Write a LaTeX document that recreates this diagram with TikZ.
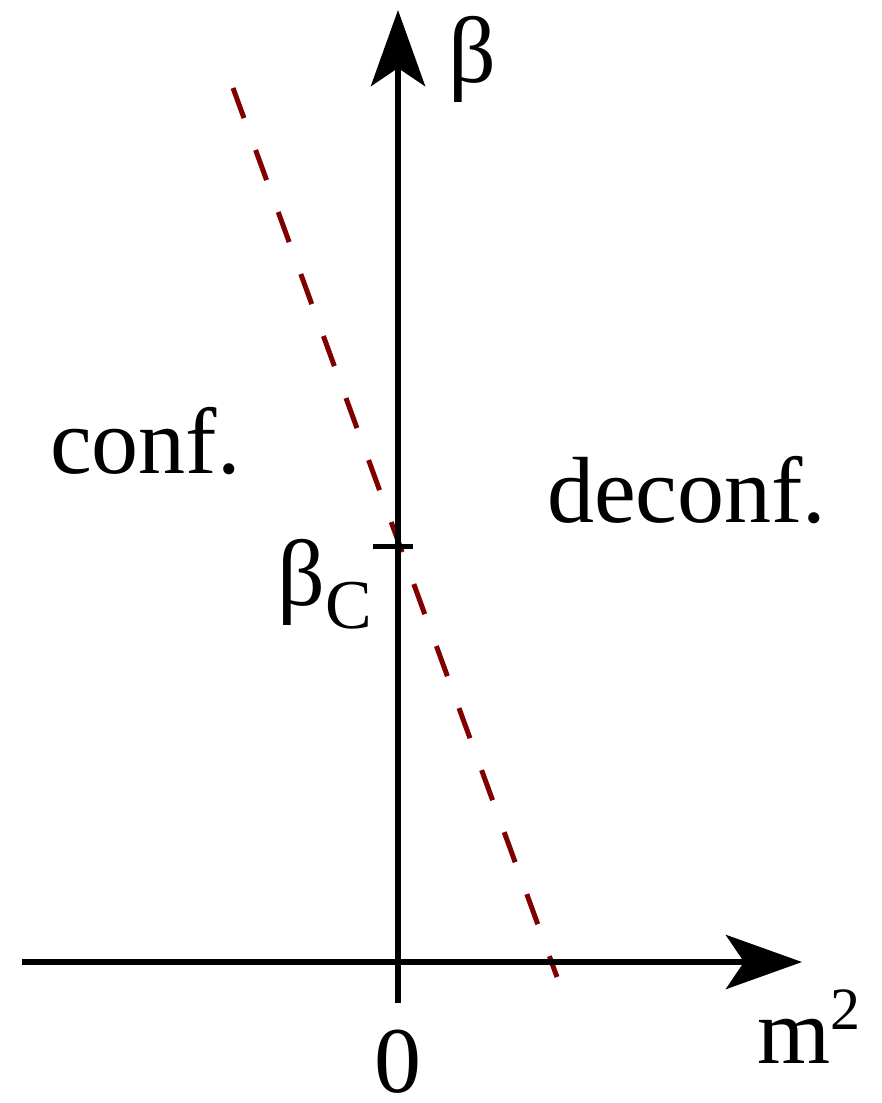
\documentclass[tikz,border=0pt]{standalone}
\usepackage{fontspec}
\setmainfont{Liberation Serif}
\usetikzlibrary{arrows.meta}
\definecolor{darkred}{RGB}{128,0,0}

\begin{document}
\begin{tikzpicture}[
        x=1pt, y=-1pt,
        every node/.style={inner sep=0pt, font=\fontsize{94pt}{100pt}\selectfont},
        axis/.style={
            line width=6.5pt,
            draw=black
        },
        arrow/.style={
            axis,
            -{Stealth[length=76pt,width=54pt,inset=18pt]}
        },
        boundary/.style={
            line width=5pt,
            draw=darkred,
            dash pattern=on 32pt off 34pt
        },
        tick/.style={
            line width=5pt,
            draw=black
        }
    ]

    \useasboundingbox (0,0) rectangle (882,1103);

    % axes
    \coordinate (xstart) at (22,962);
    \coordinate (xend) at (802,962);
    \coordinate (ystart) at (398,1003);
    \coordinate (yend) at (398,10);

    % critical line and tick
    \coordinate (linetop) at (233,88);
    \coordinate (linebot) at (557,977);
    \coordinate (tickleft) at (373,546);
    \coordinate (tickright) at (413,546);

    \draw[boundary] (linetop) -- (linebot);
    \draw[arrow] (xstart) -- (xend);
    \draw[arrow] (ystart) -- (yend);
    \draw[tick] (tickleft) -- (tickright);

    \node[anchor=base west] (betaaxis) at (448,82) {β};
    \node[anchor=base west] (betacrit) at (277,605)
        {β\raisebox{-23pt}{\fontsize{70pt}{76pt}\selectfont C}};
    \node[anchor=base west] (msquare) at (757,1063)
        {m\raisebox{34pt}{\fontsize{60pt}{64pt}\selectfont 2}};
    \node[anchor=base] (zero) at (398,1092) {0};

    \node[anchor=base west] (conf) at (50,473) {conf.};
    \node[anchor=base west] (deconf) at (547,522) {deconf.};

\end{tikzpicture}
\end{document}
